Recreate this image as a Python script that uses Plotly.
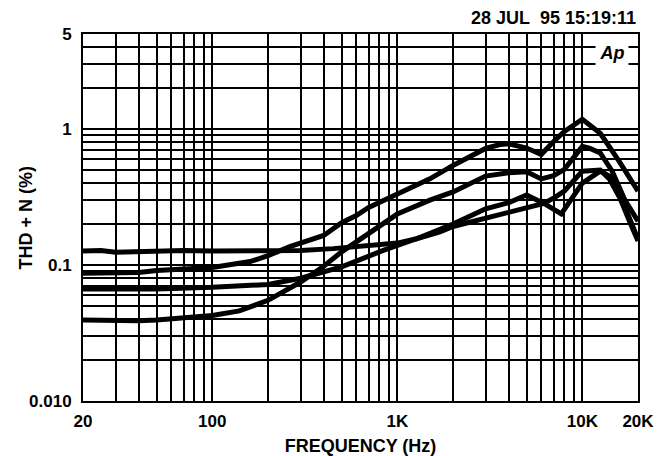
import plotly.graph_objects as go

# Frequencies (Hz) and THD+N (%) values for each of the four curves
freq_1 = [20, 30, 40, 50, 70, 100, 160, 200, 260, 300, 400, 500, 600, 700, 800, 1000,
          1500, 2000, 2500, 3000, 3600, 4000, 5000, 6000, 7000, 8000, 10000, 12500, 15800, 20000]
thd_1 = [0.087, 0.087, 0.088, 0.091, 0.094, 0.096, 0.106, 0.117, 0.136, 0.145, 0.165, 0.205,
         0.231, 0.265, 0.289, 0.335, 0.43, 0.54, 0.63, 0.72, 0.77, 0.78, 0.725, 0.65, 0.81,
         0.96, 1.18, 0.93, 0.58, 0.35]

freq_2 = [20, 30, 40, 50, 70, 100, 140, 200, 300, 400, 500, 700, 1000, 1500, 2000, 3000,
          4000, 5000, 6000, 7000, 8000, 10000, 11000, 12500, 14500, 17000, 20000]
thd_2 = [0.0395, 0.039, 0.039, 0.0395, 0.041, 0.0425, 0.046, 0.055, 0.075, 0.098, 0.125,
         0.17, 0.237, 0.30, 0.345, 0.451, 0.477, 0.485, 0.43, 0.455, 0.505, 0.746, 0.72,
         0.667, 0.49, 0.30, 0.21]

freq_3 = [20, 30, 50, 100, 160, 200, 300, 500, 840, 1270, 2000, 3000, 4000, 5000, 6200,
          7700, 10000, 12500, 14000, 16000, 18000, 20000]
thd_3 = [0.0665, 0.066, 0.0667, 0.0685, 0.071, 0.072, 0.08, 0.097, 0.128, 0.156, 0.2,
         0.259, 0.288, 0.327, 0.284, 0.238, 0.40, 0.49, 0.45, 0.33, 0.22, 0.155]

freq_4 = [20, 25, 30, 40, 50, 70, 100, 150, 200, 300, 450, 840, 1000, 1270, 1700, 2000,
          3000, 4000, 5000, 6200, 7100, 8000, 10000, 12500, 14000, 16000, 18000, 20000]
thd_4 = [0.127, 0.128, 0.124, 0.126, 0.127, 0.128, 0.127, 0.128, 0.127, 0.128, 0.132,
         0.14, 0.145, 0.156, 0.175, 0.192, 0.222, 0.244, 0.266, 0.284, 0.314, 0.35, 0.49,
         0.50, 0.43, 0.31, 0.21, 0.15]

x_tick_vals = [20, 30, 40, 50, 60, 70, 80, 90, 100, 200, 300, 400, 500, 600, 700, 800, 900,
               1000, 2000, 3000, 4000, 5000, 6000, 7000, 8000, 9000, 10000, 20000]
x_tick_text = ["20", "", "", "", "", "", "", "", "100", "", "", "", "", "", "", "", "",
               "1K", "", "", "", "", "", "", "", "", "10K", "20K"]

y_tick_vals = [0.01, 0.02, 0.03, 0.04, 0.05, 0.06, 0.07, 0.08, 0.09, 0.1, 0.2, 0.3, 0.4,
               0.5, 0.6, 0.7, 0.8, 0.9, 1, 2, 3, 4, 5]
y_tick_text = ["0.010", "", "", "", "", "", "", "", "", "0.1", "", "", "", "", "", "", "",
               "", "1", "", "", "", "5"]

title_text = "28 JUL&nbsp;&nbsp;95 15:19:11"
x_title = "FREQUENCY (Hz)"
y_title = "THD + N (%)"

FONT = "Liberation Sans, Arial, Helvetica, sans-serif"

fig = go.Figure()
for fx, fy in [(freq_1, thd_1), (freq_2, thd_2), (freq_3, thd_3), (freq_4, thd_4)]:
    fig.add_trace(go.Scatter(x=fx, y=fy, mode="lines",
                             line=dict(color="black", width=5),
                             showlegend=False, hoverinfo="skip"))

# page body has an 8px margin, so the figure is offset by 8px
fig.update_layout(
    width=655, height=448,
    margin=dict(l=75, r=25, t=26, b=55),
    paper_bgcolor="white", plot_bgcolor="white",
    font=dict(family=FONT, color="black", size=17),
    showlegend=False,
)

fig.update_xaxes(
    type="log", range=[1.30103, 4.30103], automargin=False,
    tickvals=x_tick_vals, ticktext=x_tick_text,
    tickfont=dict(family=FONT, size=17, color="black", weight="bold"),
    ticks="", ticklabelstandoff=4,
    showgrid=True, gridcolor="black", gridwidth=2,
    showline=True, linecolor="black", linewidth=2, mirror=True,
    zeroline=False,
    title=dict(text=x_title, font=dict(family=FONT, size=18, color="black", weight="bold"),
               standoff=11),
)

fig.update_yaxes(
    type="log", range=[-2, 0.69897], automargin=False,
    tickvals=y_tick_vals, ticktext=y_tick_text,
    tickfont=dict(family=FONT, size=17, color="black", weight="bold"),
    ticks="", ticklabelstandoff=6,
    showgrid=True, gridcolor="black", gridwidth=2,
    showline=True, linecolor="black", linewidth=2, mirror=True,
    zeroline=False,
)

fig.add_annotation(
    text=y_title, xref="paper", yref="paper", x=-0.1045, y=0.5,
    xanchor="center", yanchor="middle", textangle=-90, showarrow=False,
    font=dict(family=FONT, size=18, color="black", weight="bold"),
)

fig.add_annotation(
    text=title_text, xref="paper", yref="paper", x=1.0, y=1.0,
    xanchor="right", yanchor="bottom", yshift=4, showarrow=False,
    font=dict(family=FONT, size=18, color="black", weight="bold"),
)

fig.add_annotation(
    text="<i>Ap</i>", xref="paper", yref="paper", x=0.953, y=0.947,
    xanchor="center", yanchor="middle", showarrow=False,
    width=32, height=28, bgcolor="white", borderpad=0,
    font=dict(family=FONT, size=18, color="black", weight="bold"),
)

fig.write_html("out.html")
